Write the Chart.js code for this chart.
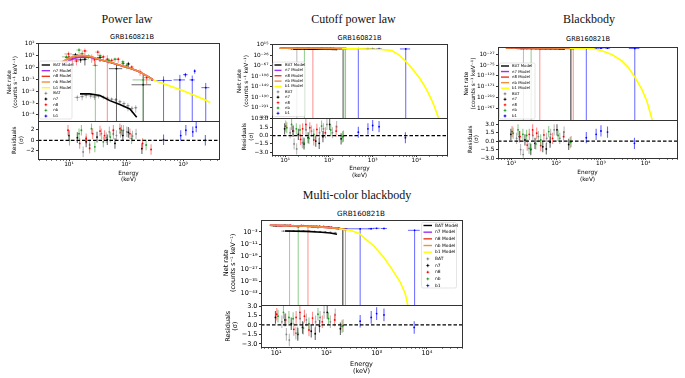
<!DOCTYPE html>
<html>
<head>
<meta charset="utf-8">
<script src="https://cdn.jsdelivr.net/npm/chart.js@4.4.1/dist/chart.umd.min.js"></script>
<style>
  html, body { margin: 0; padding: 0; background: #fff; }
  body { position: relative; width: 685px; height: 378px; overflow: hidden; }
  canvas { position: absolute; }
  .title { position: absolute; font-family: "Liberation Serif", serif; font-size: 12px; line-height: 12px; color: #111; white-space: nowrap; transform: translateX(-50%); }
  .grb { position: absolute; font-family: "DejaVu Sans", sans-serif; line-height: 1; color: #000; white-space: nowrap; transform: translateX(-50%); }
</style>
</head>
<body>
<div class="title" style="left:127px;top:13px">Power law</div>
<div class="title" style="left:353.5px;top:13px">Cutoff power law</div>
<div class="title" style="left:589px;top:13px">Blackbody</div>
<div class="title" style="left:357px;top:189px">Multi-color blackbody</div>
<div class="grb" style="left:132px;top:34px;font-size:6.6px">GRB160821B</div>
<div class="grb" style="left:359.5px;top:35px;font-size:6.6px">GRB160821B</div>
<div class="grb" style="left:588px;top:36px;font-size:6.6px">GRB160821B</div>
<div class="grb" style="left:361px;top:210px;font-size:7.2px">GRB160821B</div>
<canvas id="pl"></canvas>
<canvas id="cpl"></canvas>
<canvas id="bb"></canvas>
<canvas id="mbb"></canvas>
<script>
// tick values (exponents for the log axes)
const PL_XDEC = [1, 2, 3];
const XDEC = [1, 2, 3, 4];
const PL_YEXP = [-4, -3, -2, -1, 0, 1, 2];
const CPL_YEXP = [15, -26, -67, -108, -149, -190, -231, -272];
const BB_YEXP = [-27, -75, -123, -171, -219, -267];
const MBB_YEXP = [-3, -11, -19, -27, -35, -43];
const PL_RTICKS = [-2, 0, 2];
const RTICKS = [-3, -1.5, 0, 1.5, 3];

const DETECTORS = ['BAT', 'n7', 'n8', 'nb', 'b1'];

// ---- power law panel: data [E, dE, rate, dRate] ----
const PL_BAT = [[14,1.5,0.003,0.0015],[17,1.5,0.0035,0.0018],[20,2,0.0045,0.002],[24,2,0.004,0.0016],[28,2.5,0.0033,0.0015],
  [33,3,0.0038,0.0014],[40,3.5,0.0032,0.0012],[47,4,0.0026,0.001],[56,4.5,0.0021,0.0009],[66,5,0.0019,0.0008],
  [78,6,0.0013,0.0006],[92,7,0.0009,0.0005],[108,8,0.0006,0.0004],[127,9,0.00035,0.0002],[148,10,0.0004,0.00025]];
const PL_N7 = [[10,1.5,7,3],[13,1.5,12,5],[16,3.5,4.5,2],[19,2,5,3.5],[35,4,7,4],[68,18,0.8,0.9],[110,8,2,1],[200,75,0.035,0.2]];
const PL_N8 = [[9.8,1.5,14,8],[11.5,1.5,6,4],[13.5,1.5,3.5,2],[19,2,25,15],[25,2.5,7.5,5],[28,2.5,4.5,3],[32,3,20,10],
  [40,3.5,8,4],[47,4,5,6],[56,5,4,2],[73,6,5,2.5],[89,7,2.2,1.2],[126,10,1.1,0.5],[176,15,0.45,0.25],[230,25,0.14,0.1]];
const PL_NB = [[9,1.5,8,4],[15,1.5,30,15],[17,1.5,15,8],[22,2,9,4],[29,3,1.5,2],[35,3,10,5],[50,4,4,2],[64,5,5,2],
  [88,7,3,1.5],[103,8,1.5,0.8],[200,70,0.09,0.15]];
const PL_B1 = [[455,180,0.08,0.1],[880,200,0.09,0.15],[1100,100,0.25,0.1],[1450,150,0.09,0.12],[1600,60,0.5,0.2],[2500,400,0.02,0.03]];
// models [E, rate]
const PL_M_BAT = [[15.6,5.9e-3],[23,5.9e-3],[35,4.3e-3],[52,1.6e-3],[78,7.4e-4],[117,3.2e-4],[154,6.3e-5]];
const PL_M_N7 = [[7.5,1.6],[10,3.8],[13,6.5],[17,7.8],[23,7.5],[35,4.5],[52,2.8],[80,1.5],[117,0.87],[160,0.5],[200,0.29],[250,0.16],[300,0.09]];
const PL_M_N8 = [[7.5,2.8],[10,6],[13.6,10],[17,10.5],[23,8.5],[35,4.5],[52,2.8],[80,1.5],[117,0.87],[160,0.5],[200,0.29],[250,0.16],[300,0.09]];
const PL_M_NB = [[7.5,2.9],[10,6.3],[13.6,10.5],[17,11],[23,8.8],[35,4.7],[52,2.9],[80,1.55],[117,0.9],[160,0.5],[200,0.3],[250,0.16],[300,0.09]];
const PL_M_B1 = [[300,0.09],[500,0.036],[1000,0.011],[2000,0.0028],[3000,0.0011]];
// residuals [E, sigma]
const PL_R_BAT = [[17.7,-2.2],[23,-0.9],[37,1.25],[45,0.5],[51,1.6],[60,1.2],[68,0.9],[80,1.5],[90,1.9],[103,1.6],[130,0.8],[150,1.2]];
const PL_R_N7 = [[10,0.9],[14,0.5],[20,-0.3],[31,0.6],[47,0.1],[64,-0.6],[88,0.9],[110,1.5],[190,-1.6]];
const PL_R_N8 = [[9.6,1.9],[15.4,-0.6],[20,0.3],[23,-1.5],[26,1.25],[35,1.75],[42,0.9],[60,1.9],[78,2.2],[117,1.25],[195,-0.6],[275,-1.75]];
const PL_R_NB = [[10.2,0],[15,1.25],[16.5,1.9],[24.8,2.2],[28.4,-1.25],[40,-0.3],[53,0.6],[83,1.9],[125,0.3],[225,-0.9]];
const PL_R_B1 = [[455,0.1],[910,0.9],[1120,1.9],[1480,1.6],[1700,2.5],[2460,0]];

// ---- data shared by the other three fits ----
const D_BAT = [[14,1.5,0.003,0.0015],[16.5,1.5,0.0035,0.0018],[18.5,1.5,0.003,0.0045],[22,2,0.0045,0.002],[28,2.5,0.0035,0.0015],
  [35,3,0.0036,0.0014],[45,4,0.0028,0.001],[58,5,0.002,0.0009],[75,6,0.0013,0.0006],[95,8,0.0008,0.0005],[120,10,0.0005,0.0003],[150,12,0.0003,0.0002]];
const D_N7 = [[10,1.5,7,3],[13,1.5,12,5],[19,2,5,3],[35,4,7,4],[68,18,0.8,0.5],[110,8,2,1],[210,40,0.1,0.2]];
const D_N8 = [[9.8,1.5,14,8],[12,1.5,6,4],[19,2,20,12],[25,2.5,7.5,5],[32,3,15,8],[43,4,4,5],[56,5,4,2],[73,6,5,2.5],
  [89,7,2.2,1.2],[126,10,1.1,0.5],[176,15,0.45,0.25],[240,25,0.1,0.15]];
const D_NB = [[9,1.5,8,4],[15,1.5,25,12],[17,1.5,15,8],[22,2,9,4],[27.5,2.5,1.5,2],[35,3,10,5],[50,4,4,2],[64,5,5,2],
  [88,7,3,1.5],[103,8,1.5,0.8],[220,40,0.09,0.15]];
const D_B1 = [[470,320,0.1,0.12],[780,100,0.12,0.06],[1000,150,0.2,0.08],[1400,200,0.15,0.07],[5700,1500,0.01,0.02]];
const D_R_BAT = [[13,0.5],[16,-1.5],[18.3,-2.4],[24.7,-1.3],[30,1.0],[40,0.8],[61,0.5],[75,1.2],[90,2.0],[120,0.5],[150,1.6]];
const D_R_N7 = [[9.7,1.2],[15,0.8],[20,0.2],[27,-1.5],[33.5,-0.4],[50,-1.0],[60,-1.4],[73,-0.2],[104,2.0],[190,-0.6]];
const D_R_N8 = [[10.3,1.7],[15.5,0.8],[22.5,-0.7],[25,1.2],[29.7,2.0],[36.6,1.4],[45,-0.8],[53,1.1],[83,0.5],[146,0.8],[215,-0.1]];
const D_R_NB = [[10.9,1.4],[14,2.0],[18,1.2],[21.8,1.0],[26.8,-1.3],[35,-0.5],[45,0.2],[68,1.7],[110,1.0],[205,-0.25]];
const D_R_B1 = [[470,0.6],[780,1.2],[1000,1.8],[1400,1.6],[5600,-0.4]];

// ---- models of the other fits ----
const CPL_M_BAT = [[15,6e-3],[25,5e-3],[50,1.6e-3],[100,4e-4],[155,6e-5]];
const CPL_M_NAI = [[7.5,3],[13,11],[20,9],[40,4],[80,1.5],[150,0.6],[250,0.15]];
const CPL_M_B1 = [[200,0.2],[800,1e-2],[1600,1e-4],[2700,1e-8],[4000,1e-25],[5400,1e-46],[7000,1e-67],[9100,1e-91],
  [12000,1e-117],[15500,1e-148],[18500,1e-172],[22000,1e-199],[25500,1e-224],[29000,1e-250],[32500,1e-275]];
const BB_M_BAT = [[15,5e-3],[25,5e-3],[50,2e-3],[100,3e-4],[155,3e-5]];
const BB_M_NAI = [[7.5,2],[13,9],[20,10],[40,5],[80,1.5],[150,0.3],[250,0.03]];
const BB_M_B1 = [[200,0.2],[600,0.1],[1000,1e-11],[1700,1e-27],[2900,1e-56],[4050,1e-85],[5760,1e-129],[8100,1e-180],
  [10500,1e-231],[13700,1e-310],[14200,1e-319]];
const MBB_M_BAT = [[15,4e-3],[40,2e-3],[80,6e-4],[120,2e-4],[163,3e-5]];
const MBB_M_NAI = [[7.5,20],[15,12],[30,6],[60,2.5],[100,0.8],[150,0.25],[200,0.08],[250,0.025]];
const MBB_M_B1 = [[180,0.08],[300,0.01],[450,1e-4],[550,2.5e-7],[870,1e-12],[1380,3e-20],[2000,1e-27],[2940,3e-36],[3700,1e-43],[4170,3e-51]];

const MODEL_COLORS = ['#000000', '#a030f0', '#e8381e', '#f0903c', '#ffff00'];
const DATA_COLORS = ['#808080', '#000000', '#ff0000', '#1f9a1f', '#0000ff'];
const BAR_COLORS = ['rgba(128,128,128,0.55)', 'rgba(0,0,0,0.6)', 'rgba(255,0,0,0.45)', 'rgba(31,154,31,0.5)', 'rgba(0,0,255,0.6)'];

const PAD_T = 4, PAD_R = 4;

const panels = [
  { id: 'pl', L: 38, R: 219, T: 42, M: 121, B: 159, axw: 37, axh: 25, fs: 5.8,
    x: [2.86, 4270], xdec: PL_XDEC, y: [-4.54, 2.08], yexp: PL_YEXP, r: [-3.55, 3.6], rticks: PL_RTICKS, rdig: 0,
    models: [PL_M_BAT, PL_M_N7, PL_M_N8, PL_M_NB, PL_M_B1],
    data: [PL_BAT, PL_N7, PL_N8, PL_NB, PL_B1],
    resid: [PL_R_BAT, PL_R_N7, PL_R_N8, PL_R_NB, PL_R_B1],
    pad: { net: 4.6, res: 9.9, energy: 0.8 },
    legend: { x: 39.5, y: 61, w: 32.5, h: 58, first: 65, row: 5.67, h0: 2.2, h1: 10.5, tx: 13.8, fs: 3.9 } },
  { id: 'cpl', L: 272, R: 447, T: 43, M: 118, B: 155, axw: 38, axh: 24, fs: 5.8,
    x: [5, 50000], xdec: XDEC, y: [-272, 17.7], yexp: CPL_YEXP, r: [-3.5, 3.1], rticks: RTICKS, rdig: 1,
    models: [CPL_M_BAT, CPL_M_NAI, CPL_M_NAI, CPL_M_NAI, CPL_M_B1],
    data: [D_BAT, D_N7, D_N8, D_NB, D_B1],
    resid: [D_R_BAT, D_R_N7, D_R_N8, D_R_NB, D_R_B1],
    pad: { net: 1.9, res: 7.1, energy: 0.5 },
    legend: { x: 273, y: 62, w: 32, h: 54.5, first: 65, row: 5.37, h0: 1.5, h1: 8.5, tx: 12, fs: 3.9 } },
  { id: 'bb', L: 498, R: 677, T: 46, M: 120, B: 158, axw: 38, axh: 25, fs: 5.8,
    x: [5, 50000], xdec: XDEC, y: [-318, 4.9], yexp: BB_YEXP, r: [-3.0, 3.7], rticks: RTICKS, rdig: 1,
    models: [BB_M_BAT, BB_M_NAI, BB_M_NAI, BB_M_NAI, BB_M_B1],
    data: [D_BAT, D_N7, D_N8, D_NB, D_B1],
    resid: [D_R_BAT, D_R_N7, D_R_N8, D_R_NB, D_R_B1],
    pad: { net: 3.3, res: 6.6, energy: 0.1 },
    legend: { x: 499.5, y: 63, w: 35.5, h: 56, first: 66, row: 5.55, h0: 1.5, h1: 9.5, tx: 12.5, fs: 3.9 } },
  { id: 'mbb', L: 261, R: 462, T: 219, M: 305, B: 347, axw: 41, axh: 29, fs: 6.5,
    x: [5, 50000], xdec: XDEC, y: [-50.7, 4.5], yexp: MBB_YEXP, r: [-3.5, 3.1], rticks: RTICKS, rdig: 1,
    models: [MBB_M_BAT, MBB_M_NAI, MBB_M_NAI, MBB_M_NAI, MBB_M_B1],
    data: [D_BAT, D_N7, D_N8, D_NB, D_B1],
    resid: [D_R_BAT, D_R_N7, D_R_N8, D_R_NB, D_R_B1],
    pad: { net: 2.2, res: 4.2, energy: 0.6 },
    legend: { x: 421.5, y: 222.5, w: 35, h: 65.5, first: 225.5, row: 6.67, h0: 2, h1: 10.5, tx: 13.5, fs: 4.4 } }
];

const SUP = { '0': '⁰', '1': '¹', '2': '²', '3': '³', '4': '⁴', '5': '⁵', '6': '⁶', '7': '⁷', '8': '⁸', '9': '⁹', '-': '⁻' };
const pow10Label = e => '10' + String(e).split('').map(c => SUP[c]).join('');

// error bars under each dataset, clipped to that dataset's own panel
const errorBars = {
  id: 'errorBars',
  beforeDatasetDraw(chart, args) {
    const ds = chart.data.datasets[args.index];
    if (!ds.barColor) return;
    const xs = args.meta.xScale, ys = args.meta.yScale, ctx = chart.ctx;
    const isLog = ys.type === 'logarithmic';
    ctx.save();
    ctx.beginPath();
    ctx.rect(xs.left, ys.top, xs.right - xs.left, ys.bottom - ys.top);
    ctx.clip();
    ctx.strokeStyle = ds.barColor;
    ctx.lineWidth = isLog ? 1.0 : 1.1;
    ctx.beginPath();
    ds.data.forEach(p => {
      const px = xs.getPixelForValue(p.x), py = ys.getPixelForValue(p.y);
      if (p.dx) {
        ctx.moveTo(xs.getPixelForValue(p.x - p.dx), py);
        ctx.lineTo(xs.getPixelForValue(p.x + p.dx), py);
      }
      const lo = p.y - p.dy;
      const y1 = (!isLog || lo > 0) ? ys.getPixelForValue(lo) : ys.bottom + 2;
      ctx.moveTo(px, y1);
      ctx.lineTo(px, ys.getPixelForValue(p.y + p.dy));
    });
    ctx.stroke();
    ctx.restore();
  }
};

const frame = {
  id: 'frame',
  afterDatasetsDraw(chart) {
    const { ctx, chartArea: a } = chart;
    ctx.save();
    ctx.strokeStyle = '#333';
    ctx.lineWidth = 1;
    ['y', 'yr'].forEach(id => {
      const s = chart.scales[id];
      ctx.strokeRect(Math.round(a.left) + 0.5, Math.round(s.top) + 0.5, Math.round(a.right - a.left), Math.round(s.bottom - s.top));
    });
    ctx.restore();
  }
};

const insetLegend = {
  id: 'insetLegend',
  afterDraw(chart, args, o) {
    if (!o || !o.w) return;
    const ctx = chart.ctx;
    const items = chart.data.datasets.filter(d => d.legendKind);
    ctx.save();
    ctx.fillStyle = 'rgba(255,255,255,0.8)';
    ctx.strokeStyle = '#d4d4d4';
    ctx.lineWidth = 0.6;
    ctx.beginPath();
    ctx.roundRect(o.x, o.y, o.w, o.h, 1.5);
    ctx.fill();
    ctx.stroke();
    ctx.font = o.fs + 'px "DejaVu Sans"';
    ctx.textBaseline = 'middle';
    items.forEach((d, i) => {
      const y = o.first + i * o.row;
      const x0 = o.x + o.h0, x1 = o.x + o.h1, cx = (x0 + x1) / 2;
      if (d.legendKind === 'line') {
        ctx.strokeStyle = d.borderColor;
        ctx.lineWidth = 1.4;
        ctx.beginPath(); ctx.moveTo(x0, y); ctx.lineTo(x1, y); ctx.stroke();
      } else {
        ctx.strokeStyle = d.barColor;
        ctx.lineWidth = 0.8;
        ctx.beginPath();
        ctx.moveTo(cx - 1.8, y); ctx.lineTo(cx + 1.8, y);
        ctx.moveTo(cx, y - 1.8); ctx.lineTo(cx, y + 1.8);
        ctx.stroke();
        ctx.fillStyle = d.backgroundColor;
        ctx.beginPath(); ctx.arc(cx, y, 0.9, 0, Math.PI * 2); ctx.fill();
      }
      ctx.fillStyle = '#000';
      ctx.fillText(d.label, o.x + o.tx, y);
    });
    ctx.restore();
  }
};

function xTicks(p) {
  const ticks = [];
  for (let k = Math.floor(Math.log10(p.x[0])); k <= Math.ceil(Math.log10(p.x[1])); k++) {
    for (let m = 1; m <= 9; m++) {
      const v = m * Math.pow(10, k);
      if (v >= p.x[0] && v <= p.x[1]) ticks.push({ value: v, major: m === 1 && p.xdec.includes(k) });
    }
  }
  return ticks;
}

function buildChart(p) {
  const cv = document.getElementById(p.id);
  const left = p.L - p.axw, top = p.T - PAD_T;
  cv.width = p.axw + (p.R - p.L) + PAD_R;
  cv.height = PAD_T + (p.B - p.T) + p.axh;
  cv.style.left = left + 'px';
  cv.style.top = top + 'px';
  const font = { family: 'DejaVu Sans', size: p.fs, lineHeight: 1.17 };

  const datasets = [];
  p.models.forEach((m, i) => datasets.push({
    label: DETECTORS[i] + ' Model', legendKind: 'line', yAxisID: 'y',
    data: m.map(([x, y]) => ({ x, y })),
    showLine: true, borderColor: MODEL_COLORS[i], borderWidth: 1.6, pointRadius: 0, order: 5 - i
  }));
  p.data.forEach((d, i) => datasets.push({
    label: DETECTORS[i], legendKind: 'err', yAxisID: 'y',
    data: d.map(([x, dx, y, dy]) => ({ x, y, dx, dy })),
    backgroundColor: DATA_COLORS[i], borderColor: DATA_COLORS[i], barColor: BAR_COLORS[i],
    pointRadius: 0.9, pointBorderWidth: 0, order: 10 - i
  }));
  p.resid.forEach((d, i) => datasets.push({
    yAxisID: 'yr',
    data: d.map(([x, y]) => ({ x, y, dx: 0, dy: 1 })),
    backgroundColor: DATA_COLORS[i], borderColor: DATA_COLORS[i], barColor: BAR_COLORS[i],
    pointRadius: 0.9, pointBorderWidth: 0, order: 10 - i
  }));
  datasets.push({
    yAxisID: 'yr', data: [{ x: p.x[0], y: 0 }, { x: p.x[1], y: 0 }],
    showLine: true, borderColor: '#000', borderWidth: 1.2, borderDash: [3.5, 2], pointRadius: 0, order: 0
  });

  const tickGrid = { drawOnChartArea: false, tickLength: 2, tickColor: '#000', tickWidth: 0.8 };
  const lg = p.legend;

  new Chart(cv, {
    type: 'scatter',
    data: { datasets },
    plugins: [errorBars, frame, insetLegend],
    options: {
      responsive: false, animation: false, events: [],
      layout: { padding: { left: 0, top: PAD_T, right: PAD_R, bottom: 0 } },
      plugins: {
        legend: { display: false }, tooltip: { enabled: false },
        insetLegend: { x: lg.x - left, y: lg.y - top, w: lg.w, h: lg.h, first: lg.first - top, row: lg.row, h0: lg.h0, h1: lg.h1, tx: lg.tx, fs: lg.fs }
      },
      scales: {
        x: {
          type: 'logarithmic', position: 'bottom', min: p.x[0], max: p.x[1],
          afterBuildTicks: s => { s.ticks = xTicks(p); },
          afterFit: s => { s.height = p.axh; },
          ticks: {
            autoSkip: false, maxRotation: 0, padding: 0.5, color: '#000', font,
            callback: v => { const e = Math.log10(v); return Math.abs(e - Math.round(e)) < 1e-9 ? pow10Label(Math.round(e)) : ''; }
          },
          grid: Object.assign({}, tickGrid, { tickWidth: c => (c.tick && c.tick.major ? 0.8 : 0.5) }),
          border: { display: false },
          title: { display: true, text: ['Energy', '(keV)'], color: '#000', font, padding: { top: 0, bottom: p.pad.energy } }
        },
        y: {
          type: 'logarithmic', position: 'left', stack: 'v', stackWeight: p.M - p.T, weight: 2,
          min: Math.pow(10, p.y[0]), max: Math.pow(10, p.y[1]),
          afterBuildTicks: s => { s.ticks = p.yexp.map(e => ({ value: Math.pow(10, e), major: true })); },
          afterFit: s => { s.width = p.axw; },
          ticks: { autoSkip: false, padding: 1.5, color: '#000', font, callback: v => pow10Label(Math.round(Math.log10(v))) },
          grid: tickGrid, border: { display: false },
          title: { display: true, text: ['Net rate', '(counts s⁻¹ keV⁻¹)'], color: '#000', font, padding: { top: p.pad.net, bottom: 0 } }
        },
        yr: {
          type: 'linear', position: 'left', stack: 'v', stackWeight: p.B - p.M, weight: 1,
          min: p.r[0], max: p.r[1],
          afterBuildTicks: s => { s.ticks = p.rticks.map(v => ({ value: v })); },
          afterFit: s => { s.width = p.axw; },
          ticks: { autoSkip: false, padding: 1.5, color: '#000', font, callback: v => v.toFixed(p.rdig).replace('-', '\u2212') },
          grid: tickGrid, border: { display: false },
          title: { display: true, text: ['Residuals', '(σ)'], color: '#000', font, padding: { top: p.pad.res, bottom: 0 } }
        }
      }
    }
  });
}

panels.forEach(buildChart);
</script>
</body>
</html>
